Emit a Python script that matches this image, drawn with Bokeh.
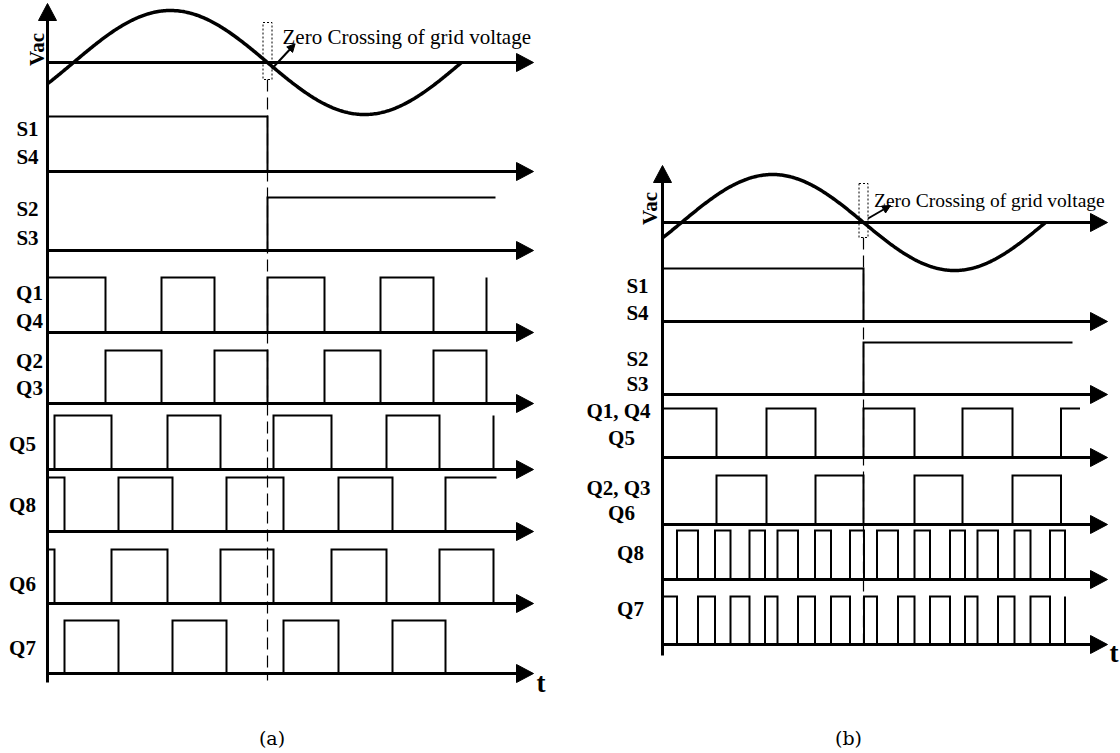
import numpy as np
from bokeh.plotting import figure
from bokeh.models import Range1d, Arrow, NormalHead
from bokeh.core.properties import value
from bokeh.embed import file_html
from bokeh.resources import INLINE

W, H = 1120, 753

# ------------------------------------------------------------------ data
# Switching instants, in time units measured along each panel's t axis.
# Each signal: (initial level, edge instants, end instant)
a_signals = {
    "S14": (1, [220], 220),
    "S23": (0, [220], 448),
    "Q14": (1, [58, 114, 167, 220, 277, 333, 386, 439], 439),
    "Q23": (0, [58, 114, 167, 220, 277, 333, 386, 439], 439),
    "Q5":  (0, [7, 64, 120, 173, 226, 284, 339, 392, 446], 446),
    "Q8":  (1, [17, 71, 125, 179, 236, 291, 345, 398], 449),
    "Q6":  (1, [7, 64, 120, 173, 226, 284, 339, 392, 446], 446),
    "Q7":  (0, [17, 71, 125, 179, 236, 291, 345, 398], 449),
}
b_q8_edges = [14.5, 35.5, 52.5, 68, 87, 102.5, 115, 135.5, 152.5, 168.5, 187.5, 201.5,
              214.5, 235.5, 252, 267.5, 287.5, 302.5, 315, 335.5, 352, 368, 387.5, 402.5]
b_q1_edges = [54, 104, 153, 201, 252, 300, 350, 398.5]
b_signals = {
    "S14":   (1, [201], 410),
    "S23":   (0, [201], 410),
    "Q145":  (1, b_q1_edges, 417.5),
    "Q236":  (0, b_q1_edges, 398.5),
    "Q8":    (0, b_q8_edges, 402.5),
    "Q7":    (1, b_q8_edges, 402.5),
}
# grid voltage: first zero crossing, half period, amplitude, end
a_vac = (26, 194, 52, 414)
b_vac = (19, 182, 48, 383)

a_labels = ["S1", "S4", "S2", "S3", "Q1", "Q4", "Q2", "Q3", "Q5", "Q8", "Q6", "Q7"]
b_labels = ["S1", "S4", "S2", "S3", "Q1, Q4", "Q5", "Q2, Q3", "Q6", "Q8", "Q7"]
note_text = "Zero Crossing of grid voltage"
captions = ["(a)", "(b)"]

# ------------------------------------------------------------------ layout
A = dict(x0=47, tip=533, ytop=3, ybot=682, vac_y=62, t_x=536, t_y=682,
         rows={"S14": (116, 171), "S23": (197, 250), "Q14": (277, 332),
               "Q23": (350, 403), "Q5": (415, 469), "Q8": (477, 531),
               "Q6": (549, 603), "Q7": (620, 673)},
         dash=(79, 680), rect=(22, 79), note=(282, 36), note_size="21px",
         zarrow=((271.4, 68.3), (294.6, 43.3)),
         vac_lbl=(36, 49),
         lbl_x=[27, 27, 27, 27, 29, 29, 29, 29, 22, 22, 22, 22],
         lbl_y=[128, 156, 208, 237, 292, 320, 360, 387, 443, 504, 583, 647],
         cap=(271.5, 737))
B = dict(x0=662, tip=1107, ytop=165, ybot=655, vac_y=222, t_x=1109, t_y=652,
         rows={"S14": (268, 321), "S23": (342, 394), "Q145": (408, 457),
               "Q236": (475, 524), "Q8": (530, 579), "Q7": (596, 644)},
         dash=(237, 648), rect=(183, 237), note=(873.5, 200), note_size="19.5px",
         zarrow=((867.5, 218), (890, 205)),
         vac_lbl=(649, 208),
         lbl_x=[637, 637, 637, 637, 618, 621, 618, 621, 630, 630],
         lbl_y=[285, 312, 358, 383, 410, 437, 487, 512, 552, 608],
         cap=(848, 737))

HEAD_L, HEAD_W = 17, 9
SERIF = value("Liberation Serif")

p = figure(width=W, height=H, x_range=Range1d(0, W), y_range=Range1d(H, 0),
           output_backend="svg", toolbar_location=None, min_border=0,
           x_axis_location=None, y_axis_location=None)
p.grid.visible = False
p.outline_line_color = None
p.background_fill_color = "white"
p.border_fill_color = "white"


def step_path(init, edges, end):
    xs, ys, lvl = [0.0], [init], init
    for e in edges:
        xs += [e, e]
        ys += [lvl, 1 - lvl]
        lvl = 1 - lvl
    if end > xs[-1]:
        xs.append(end)
        ys.append(lvl)
    return xs, ys


def draw_panel(L, signals, vac, labels):
    x0, tip = L["x0"], L["tip"]
    # horizontal axes
    ys_axes = [L["vac_y"]] + [r[1] for r in L["rows"].values()]
    p.segment(x0=[x0] * len(ys_axes), y0=ys_axes, x1=[tip - HEAD_L + 2] * len(ys_axes),
              y1=ys_axes, line_width=3, line_color="black")
    p.patches(xs=[[tip, tip - HEAD_L, tip - HEAD_L] for _ in ys_axes],
              ys=[[y, y - HEAD_W, y + HEAD_W] for y in ys_axes],
              fill_color="black", line_color="black", line_width=1)
    # vertical axis
    p.segment(x0=[x0], y0=[L["ybot"]], x1=[x0], y1=[L["ytop"] + HEAD_L - 2],
              line_width=3, line_color="black")
    p.patches(xs=[[x0, x0 - HEAD_W, x0 + HEAD_W]],
              ys=[[L["ytop"], L["ytop"] + HEAD_L, L["ytop"] + HEAD_L]],
              fill_color="black", line_color="black")
    # switching signals
    mx, my = [], []
    for key, (init, edges, end) in signals.items():
        top, base = L["rows"][key]
        xs, ys = step_path(init, edges, end)
        mx.append([x0 + t for t in xs])
        my.append([base - v * (base - top) for v in ys])
    p.multi_line(xs=mx, ys=my, line_width=2, line_color="black", line_join="miter")
    # grid voltage
    z, half, amp, end = vac
    t = np.linspace(0, end, 300)
    p.line(x=x0 + t, y=L["vac_y"] - amp * np.sin(np.pi * (t - z) / half),
           line_width=3.5, line_color="black")
    # zero crossing marker
    zc = x0 + z + half
    p.segment(x0=[zc], y0=[L["dash"][0]], x1=[zc], y1=[L["dash"][1]],
              line_width=1.2, line_color="black", line_dash="12 6")
    p.quad(left=[zc - 4.5], right=[zc + 4.5], top=[L["rect"][0]], bottom=[L["rect"][1]],
           fill_color=None, line_color="black", line_width=1, line_dash="2 2")
    (sx, sy), (ex, ey) = L["zarrow"]
    p.add_layout(Arrow(end=NormalHead(size=8, fill_color="black", line_color="black"),
                       x_start=sx, y_start=sy, x_end=ex, y_end=ey,
                       line_width=2, line_color="black"))
    p.text(x=[L["note"][0]], y=[L["note"][1]], text=[note_text], text_font=SERIF,
           text_font_size=L["note_size"], text_baseline="alphabetic", text_align="left",
           text_color="black")
    # labels
    p.text(x=L["lbl_x"], y=L["lbl_y"], text=labels, text_font=SERIF,
           text_font_size="21px", text_font_style="bold", text_align="center",
           text_baseline="middle", text_color="black")
    p.text(x=[L["vac_lbl"][0]], y=[L["vac_lbl"][1]], text=["Vac"], angle=np.pi / 2,
           text_font=SERIF, text_font_size="21px", text_font_style="bold",
           text_align="center", text_baseline="middle", text_color="black")
    p.text(x=[L["t_x"]], y=[L["t_y"]], text=["t"], text_font=SERIF,
           text_font_size="27px", text_font_style="bold", text_align="left",
           text_baseline="alphabetic", text_color="black")


draw_panel(A, a_signals, a_vac, a_labels)
draw_panel(B, b_signals, b_vac, b_labels)

p.text(x=[A["cap"][0], B["cap"][0]], y=[A["cap"][1], B["cap"][1]], text=captions,
       text_font=value("DejaVu Serif"), text_font_size="19px", text_align="center",
       text_baseline="middle", text_color="black")

open("out.html", "w").write(file_html(p, INLINE))
